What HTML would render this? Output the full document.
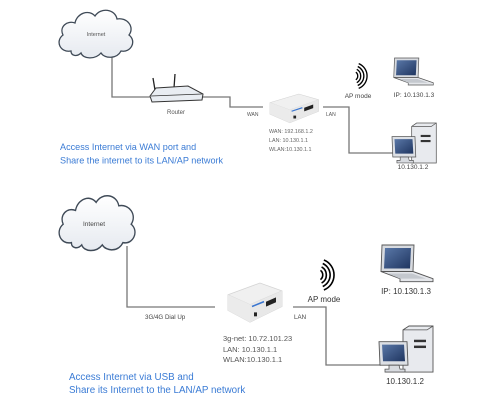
<!DOCTYPE html>
<html><head><meta charset="utf-8"><style>
html,body{margin:0;padding:0;background:#fff;}
svg{display:block;font-family:"Liberation Sans",sans-serif;}
</style></head><body>
<svg width="486" height="410" viewBox="0 0 486 410" xmlns="http://www.w3.org/2000/svg">
<defs>
<linearGradient id="cl" x1="0" y1="0" x2="0" y2="1"><stop offset="0" stop-color="#ffffff"/><stop offset="1" stop-color="#e6eaf0"/></linearGradient>
<linearGradient id="scr" x1="0" y1="0" x2="1" y2="1"><stop offset="0" stop-color="#5a78a8"/><stop offset="1" stop-color="#1f3560"/></linearGradient>
<g id="cloud">
<path d="M14,44 C3,46 -2,34 6,28 C2,20 10,13 18,16 C20,6 32,2 38,9 C44,0 58,2 60,12 C70,10 78,20 72,28 C80,34 74,46 64,44 C60,52 48,52 44,46 C38,53 26,52 24,46 C20,50 14,49 14,44 Z" fill="url(#cl)" stroke="#3f4a57" stroke-width="1.3"/>
</g>
<g id="laptop">
<path d="M2,0 L34,0 L33,26 L1,26 Z" fill="#d8dbe0" stroke="#555" stroke-width="0.9"/>
<path d="M5,3 L31,3 L30,23 L4,23 Z" fill="url(#scr)"/>
<path d="M1,26 L33,26 L53,33 L53,36 L20,36 L20,33 Z" fill="#e4e6ea" stroke="#555" stroke-width="0.9"/>
<path d="M8,28 L32,28 L46,33 L20,33 Z" fill="#c4c8ce"/>
</g>
<g id="pc">
<path d="M24,4 L30,0 L54,0 L54,47 L24,47 Z" fill="#e8eaee" stroke="#555" stroke-width="0.9"/>
<path d="M24,4 L48,4 L54,0" fill="none" stroke="#555" stroke-width="0.8"/>
<rect x="35" y="14" width="12" height="2.5" fill="#333"/>
<rect x="35" y="20" width="12" height="2.5" fill="#333"/>
<path d="M0,16 L28,16 L29,40 L1,40 Z" fill="#dde0e5" stroke="#555" stroke-width="0.9"/>
<path d="M3,19 L25,19 L26,36 L4,36 Z" fill="url(#scr)"/>
<path d="M10,40 L20,40 L21,44 L26,44 L26,47 L6,47 L6,44 L10,44 Z" fill="#d8dbe0" stroke="#555" stroke-width="0.8"/>
</g>
<g id="dev">
<path d="M0,12 L32,0 L54,8 L54,24 L22,40 L0,28 Z" fill="#f0f0f0" stroke="#d4d4d4" stroke-width="0.8"/>
<path d="M0,12 L22,22 L54,8" fill="none" stroke="#d8d8d8" stroke-width="0.8"/>
<path d="M22,22 L54,8 L54,24 L22,40 Z" fill="#e8e8e8"/>
<path d="M0,12 L22,22 L22,40 L0,28 Z" fill="#ebebeb"/>
<rect x="38" y="18" width="10" height="5" fill="#222" transform="skewY(-24) translate(0,18)"/>
<rect x="26" y="30" width="3" height="4" fill="#222"/>
<path d="M24,24 L36,19" stroke="#3a76d0" stroke-width="1.6"/>
</g>
<g id="wifi" fill="none" stroke="#000" stroke-width="1.4">
<path d="M3,-4 A5,5 0 0 1 3,4"/>
<path d="M4,-7 A8,8 0 0 1 4,7"/>
<path d="M5,-10 A11,11 0 0 1 5,10"/>
<path d="M6,-13 A14,14 0 0 1 6,13"/>
</g>
</defs>

<!-- TOP -->
<polyline points="112,55 112,97 152,97" fill="none" stroke="#777" stroke-width="1.3"/>
<polyline points="202,97 230,97 230,107 263,107" fill="none" stroke="#777" stroke-width="1.3"/>
<polyline points="323,107 349,107 349,153 393,153" fill="none" stroke="#777" stroke-width="1.3"/>
<use href="#cloud" transform="translate(57,7)"/>
<text x="96" y="36" font-size="5.5" fill="#555" text-anchor="middle">Internet</text>
<!-- router -->
<line x1="155" y1="90" x2="153" y2="78" stroke="#222" stroke-width="1.3"/>
<line x1="174" y1="88" x2="175" y2="74" stroke="#222" stroke-width="1.3"/>
<path d="M150,96 L156,88 L188,86 L203,94 L202,100 L152,102 Z" fill="#e9edf2" stroke="#333" stroke-width="1"/>
<path d="M151,96 L202,94" stroke="#333" stroke-width="0.7"/>
<text x="176" y="114" font-size="6" fill="#555" text-anchor="middle">Router</text>
<text x="247" y="116" font-size="5" fill="#555">WAN</text>
<use href="#dev" transform="translate(270,94) scale(0.9,0.72)"/>
<text x="326" y="116" font-size="5" fill="#555">LAN</text>
<text x="269" y="133" font-size="5.4" fill="#666">WAN: 192.168.1.2</text>
<text x="269" y="142" font-size="5.4" fill="#666">LAN: 10.130.1.1</text>
<text x="269" y="151" font-size="5.4" fill="#666">WLAN:10.130.1.1</text>
<use href="#wifi" transform="translate(353,76) scale(0.95)"/>
<text x="358" y="98" font-size="6.5" fill="#444" text-anchor="middle">AP mode</text>
<use href="#laptop" transform="translate(393,58) scale(0.76,0.75)"/>
<text x="414" y="97" font-size="6.5" fill="#444" text-anchor="middle">IP: 10.130.1.3</text>
<use href="#pc" transform="translate(392,123) scale(0.82,0.85)"/>
<text x="413" y="169" font-size="6.5" fill="#444" text-anchor="middle">10.130.1.2</text>
<text x="60" y="150" font-size="9.1" fill="#3a7bd5">Access Internet via WAN port and</text>
<text x="60" y="163.5" font-size="9.1" fill="#3a7bd5">Share the internet to its LAN/AP network</text>

<!-- BOTTOM -->
<polyline points="127,246 127,307 215,307" fill="none" stroke="#777" stroke-width="1.3"/>
<polyline points="293,307 326,307 326,365 381,365" fill="none" stroke="#777" stroke-width="1.3"/>
<use href="#cloud" transform="translate(57,192) scale(1.03,1.15)"/>
<text x="94" y="226" font-size="6.5" fill="#444" text-anchor="middle">Internet</text>
<text x="145" y="319" font-size="6.2" fill="#444">3G/4G Dial Up</text>
<use href="#dev" transform="translate(228,283) scale(1,0.98)"/>
<text x="294" y="319" font-size="6.2" fill="#444">LAN</text>
<text x="223" y="341" font-size="7.5" fill="#555">3g-net: 10.72.101.23</text>
<text x="223" y="352" font-size="7.5" fill="#555">LAN: 10.130.1.1</text>
<text x="223" y="362" font-size="7.5" fill="#555">WLAN:10.130.1.1</text>
<use href="#wifi" transform="translate(317,275) scale(1.15)"/>
<text x="324" y="302" font-size="8" fill="#333" text-anchor="middle">AP mode</text>
<use href="#laptop" transform="translate(380,245) scale(1,1.02)"/>
<text x="406" y="294" font-size="8" fill="#333" text-anchor="middle">IP: 10.130.1.3</text>
<use href="#pc" transform="translate(379,326) scale(1,0.98)"/>
<text x="405" y="384" font-size="8" fill="#333" text-anchor="middle">10.130.1.2</text>
<text x="69" y="380" font-size="9.8" fill="#3a7bd5">Access Internet via USB and</text>
<text x="69" y="393" font-size="9.8" fill="#3a7bd5">Share its Internet to the LAN/AP network</text>
</svg>
</body></html>
